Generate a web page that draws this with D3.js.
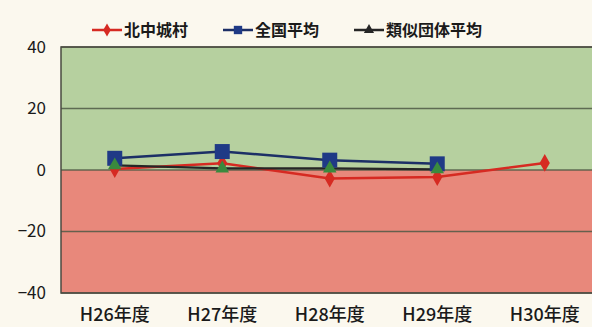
<!DOCTYPE html>
<html>
<head>
<meta charset="utf-8">
<script src="https://cdn.jsdelivr.net/npm/d3@7"></script>
<style>
  html, body { margin: 0; padding: 0; background: #fbf8ee; }
  svg { display: block; }
  text { font-family: "Noto Sans CJK JP", "Liberation Sans", sans-serif; }
</style>
</head>
<body>
<svg id="chart" width="592" height="327"></svg>
<script>
// 年度
const categories = ["H26年度", "H27年度", "H28年度", "H29年度", "H30年度"];
// 北中城村
const kitanakagusuku = [0.3, 2.2, -2.8, -2.3, 2.3];
// 全国平均
const nationalAvg = [3.8, 6.0, 3.2, 2.0, null];
// 類似団体平均
const similarAvg = [1.5, 0.5, 0.5, 0.2, null];
const yTicks = [40, 20, 0, -20, -40];

const svg = d3.select("#chart");
const plotLeft = 61, plotTop = 47, plotBottom = 293;
const bandW = 107.5;

const x = d3.scaleBand().domain(categories).range([plotLeft, plotLeft + bandW * categories.length]).padding(0);
const y = d3.scaleLinear().domain([-40, 40]).range([plotBottom, plotTop]);
const cx = d => x(d) + x.bandwidth() / 2;
const plotRight = plotLeft + bandW * categories.length;

// plot background: green above zero, red below
svg.append("rect").attr("x", plotLeft).attr("y", y(40)).attr("width", plotRight - plotLeft)
  .attr("height", y(0) - y(40)).attr("fill", "#b6d09f");
svg.append("rect").attr("x", plotLeft).attr("y", y(0)).attr("width", plotRight - plotLeft)
  .attr("height", y(-40) - y(0)).attr("fill", "#e8887b");

// grid lines
svg.append("g").selectAll("line").data(yTicks).join("line")
  .attr("x1", plotLeft).attr("x2", plotRight)
  .attr("y1", d => y(d)).attr("y2", d => y(d))
  .attr("stroke", "#4f5a45").attr("stroke-width", 1.3).attr("opacity", 0.85);

// frame
svg.append("rect").attr("x", plotLeft).attr("y", plotTop).attr("width", plotRight - plotLeft)
  .attr("height", plotBottom - plotTop)
  .attr("fill", "none").attr("stroke", "#4a4a40").attr("stroke-width", 1.5);

// y axis labels
const yAxis = d3.axisLeft(y).tickValues(yTicks).tickSize(0).tickPadding(15)
  .tickFormat(d => d < 0 ? "\u2212" + Math.abs(d) : d);
const gy = svg.append("g").attr("transform", `translate(${plotLeft},0)`).call(yAxis);
gy.select(".domain").remove();
gy.selectAll("text").attr("font-family", "Liberation Sans, Arial, sans-serif")
  .attr("font-size", 17).attr("fill", "#1a1a1a");

// x axis labels
const xAxis = d3.axisBottom(x).tickSize(0).tickPadding(15);
const gx = svg.append("g").attr("transform", `translate(0,${plotBottom})`).call(xAxis);
gx.select(".domain").remove();
gx.selectAll("text").attr("font-family", "Noto Sans CJK JP, sans-serif")
  .attr("font-size", 18).attr("font-weight", 500).attr("fill", "#1a1a1a");

// series lines
const line = d3.line().defined(d => d.v !== null).x(d => cx(d.c)).y(d => y(d.v));
const toPts = arr => categories.map((c, i) => ({ c, v: arr[i] }));

svg.append("path").datum(toPts(kitanakagusuku)).attr("d", line)
  .attr("fill", "none").attr("stroke", "#d62a22").attr("stroke-width", 2.5);
svg.append("path").datum(toPts(similarAvg)).attr("d", line)
  .attr("fill", "none").attr("stroke", "#262626").attr("stroke-width", 2.2);
svg.append("path").datum(toPts(nationalAvg)).attr("d", line)
  .attr("fill", "none").attr("stroke", "#1c2f66").attr("stroke-width", 2.5);

// markers
const diamond = d3.symbol().type(d3.symbolDiamond).size(90);
const square = d3.symbol().type(d3.symbolSquare).size(225);
const tri = d3.symbol().type(d3.symbolTriangle).size(80);

svg.append("g").selectAll("path").data(toPts(kitanakagusuku).filter(d => d.v !== null)).join("path")
  .attr("d", diamond).attr("transform", d => `translate(${cx(d.c)},${y(d.v)})`).attr("fill", "#d62a22");
svg.append("g").selectAll("path").data(toPts(nationalAvg).filter(d => d.v !== null)).join("path")
  .attr("d", square).attr("transform", d => `translate(${cx(d.c)},${y(d.v)})`).attr("fill", "#1f3a86");
svg.append("g").selectAll("path").data(toPts(similarAvg).filter(d => d.v !== null)).join("path")
  .attr("d", tri).attr("transform", d => `translate(${cx(d.c)},${y(d.v)})`).attr("fill", "#3a8a3e");

// legend
const legend = [
  { name: "北中城村", color: "#d62a22", sym: d3.symbol().type(d3.symbolDiamond).size(50), fill: "#d62a22", x: 92 },
  { name: "全国平均", color: "#1c2f66", sym: d3.symbol().type(d3.symbolSquare).size(70), fill: "#1f3a86", x: 223 },
  { name: "類似団体平均", color: "#262626", sym: d3.symbol().type(d3.symbolTriangle).size(45), fill: "#262626", x: 354 }
];
const lg = svg.append("g").selectAll("g").data(legend).join("g")
  .attr("transform", d => `translate(${d.x},30)`);
lg.append("line").attr("x1", 0).attr("x2", 30).attr("stroke", d => d.color).attr("stroke-width", 2.5);
lg.append("path").attr("d", d => d.sym()).attr("transform", "translate(15,0)").attr("fill", d => d.fill);
lg.append("text").attr("x", 32).attr("y", 6).attr("font-size", 16).attr("font-weight", 700)
  .attr("fill", "#1a1a1a").text(d => d.name);
</script>
</body>
</html>
